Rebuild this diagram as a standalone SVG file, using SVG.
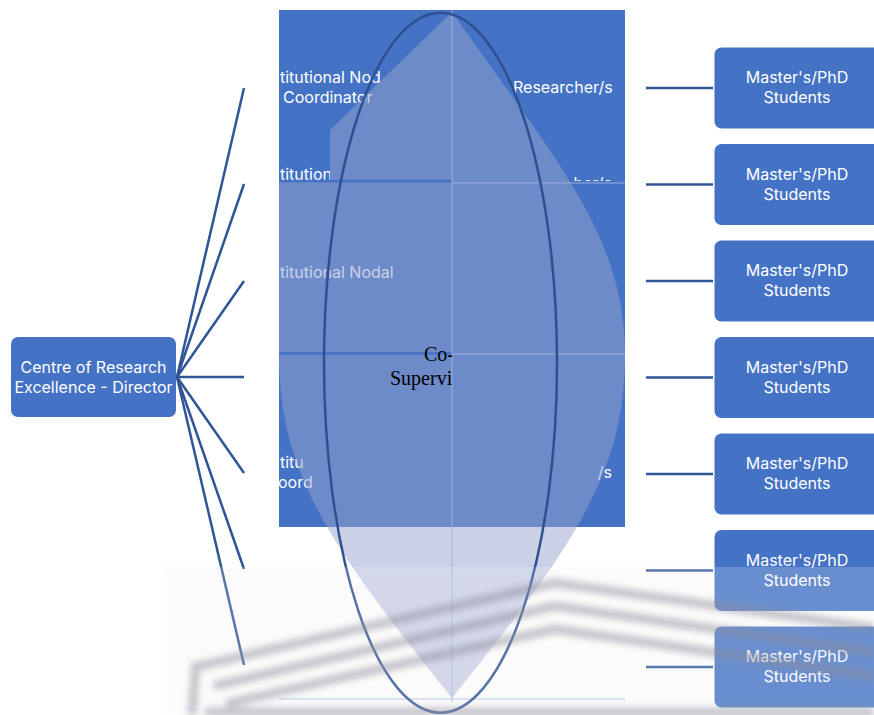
<svg xmlns="http://www.w3.org/2000/svg" width="874" height="715" viewBox="0 0 874 715">
  <style>
    .box { fill: #4472C4; }
    .lbl { font-family: Inter, "Open Sans", "DejaVu Sans", sans-serif; font-size: 16px; fill: #FFFFFF; }
    .mid { text-anchor: middle; }
    .cell { font-family: Inter, "Open Sans", "DejaVu Sans", sans-serif; font-size: 16px; fill: #FFFFFF; }
    .serif { font-family: "Liberation Serif", "Times New Roman", serif; font-size: 20px; fill: #000000; }
    .conn { stroke: #2F5597; stroke-width: 2.5; fill: none; stroke-linecap: butt; }
    .grid { stroke: #9FB2E0; stroke-opacity: 0.6; stroke-width: 1.5; fill: none; }
    .gridB { stroke: #4472C4; stroke-width: 2.5; fill: none; }
    .mark { stroke: #8E8E9C; stroke-opacity: 0.5; stroke-width: 9; fill: none; stroke-linejoin: round; }
  </style>
  <defs>
    <clipPath id="cellArea"><rect x="279" y="10" width="346" height="517"/></clipPath>
    <clipPath id="row2Left"><rect x="279" y="150" width="51" height="31"/></clipPath>
    <clipPath id="row2Right"><rect x="540" y="150" width="85" height="31"/></clipPath>
    <clipPath id="leftHalf"><rect x="279" y="340" width="173" height="60"/></clipPath>
    <filter id="soft" x="-5%" y="-20%" width="110%" height="140%"><feGaussianBlur stdDeviation="3"/></filter>
    <filter id="haze" x="-10%" y="-20%" width="120%" height="140%"><feGaussianBlur stdDeviation="6"/></filter>
  </defs>

  <rect width="874" height="715" fill="#FFFFFF"/>

  <!-- faint backdrop of the lower watermark -->
  <rect x="165" y="568" width="709" height="147" fill="#F2F2F5" opacity="0.35" filter="url(#haze)"/>

  <!-- matrix panel -->
  <g id="panel">
    <rect x="279" y="10" width="346" height="517" fill="#4472C4"/>
    <g clip-path="url(#cellArea)">
      <text class="cell" x="280" y="83">titutional Nod<tspan x="283" dy="20">Coordinator</tspan></text>
      <text class="cell" x="513" y="93">Researcher/s</text>
      <text class="cell" x="280" y="180" clip-path="url(#row2Left)">titution</text>
      <text class="cell" x="612" y="189" text-anchor="end" clip-path="url(#row2Right)">her/s</text>
      <text class="cell" x="280" y="278">titutional Nodal</text>
      <text class="cell" x="280" y="468">titu<tspan x="278" dy="20">oord</tspan></text>
      <text class="cell" x="612" y="478" text-anchor="end">/s</text>
    </g>
  </g>

  <!-- translucent lens overlay -->
  <path id="lens" d="M 452 12 C 557 162 625 235 625 355 C 625 475 572 548 452 698 C 332 548 279 475 279 355 L 279 181 L 330 181 L 330 130 Z" fill="#96A2CD" fill-opacity="0.5"/>

  <!-- panel grid lines -->
  <g id="grid">
    <line class="gridB" x1="279" y1="181" x2="452" y2="181"/>
    <line class="gridB" x1="279" y1="353.5" x2="452" y2="353.5"/>
    <line class="grid" x1="452" y1="183" x2="625" y2="183"/>
    <line class="grid" x1="452" y1="354" x2="625" y2="354"/>
    <line class="grid" x1="452" y1="10" x2="452" y2="702"/>
    <line class="grid" x1="279" y1="699" x2="625" y2="699"/>
  </g>

  <g id="cosupervisor" clip-path="url(#leftHalf)">
    <text class="serif" x="424" y="361">Co-<tspan x="390" dy="24">Supervisor</tspan></text>
  </g>

  <ellipse id="outline" cx="440.5" cy="362.7" rx="116.5" ry="350" fill="none" stroke="#2E5090" stroke-width="2.5"/>

  <!-- connectors -->
  <g id="connectors">
    <line class="conn" x1="177" y1="377" x2="244" y2="88"/>
    <line class="conn" x1="177" y1="377" x2="244" y2="184"/>
    <line class="conn" x1="177" y1="377" x2="244" y2="281"/>
    <line class="conn" x1="177" y1="377" x2="244" y2="377"/>
    <line class="conn" x1="177" y1="377" x2="244" y2="473"/>
    <line class="conn" x1="177" y1="377" x2="244" y2="569"/>
    <line class="conn" x1="177" y1="377" x2="244" y2="665"/>
    <line class="conn" x1="646" y1="88" x2="713" y2="88"/>
    <line class="conn" x1="646" y1="184.5" x2="713" y2="184.5"/>
    <line class="conn" x1="646" y1="281" x2="713" y2="281"/>
    <line class="conn" x1="646" y1="377.5" x2="713" y2="377.5"/>
    <line class="conn" x1="646" y1="474" x2="713" y2="474"/>
    <line class="conn" x1="646" y1="570.5" x2="713" y2="570.5"/>
    <line class="conn" x1="646" y1="667" x2="713" y2="667"/>
  </g>

  <g id="director">
    <rect class="box" x="11" y="337" width="165" height="80" rx="7"/>
    <text class="lbl mid" x="93.5" y="372.7">Centre of Research<tspan x="93.5" dy="20">Excellence - Director</tspan></text>
  </g>

  <g id="student1">
    <rect class="box" x="714.5" y="47.5" width="170" height="81" rx="7"/>
    <text class="lbl mid" x="797" y="83.3">Master's/PhD<tspan x="797" dy="20">Students</tspan></text>
  </g>
  <g id="student2">
    <rect class="box" x="714.5" y="144" width="170" height="81" rx="7"/>
    <text class="lbl mid" x="797" y="179.8">Master's/PhD<tspan x="797" dy="20">Students</tspan></text>
  </g>
  <g id="student3">
    <rect class="box" x="714.5" y="240.5" width="170" height="81" rx="7"/>
    <text class="lbl mid" x="797" y="276.3">Master's/PhD<tspan x="797" dy="20">Students</tspan></text>
  </g>
  <g id="student4">
    <rect class="box" x="714.5" y="337" width="170" height="81" rx="7"/>
    <text class="lbl mid" x="797" y="372.8">Master's/PhD<tspan x="797" dy="20">Students</tspan></text>
  </g>
  <g id="student5">
    <rect class="box" x="714.5" y="433.5" width="170" height="81" rx="7"/>
    <text class="lbl mid" x="797" y="469.3">Master's/PhD<tspan x="797" dy="20">Students</tspan></text>
  </g>
  <g id="student6">
    <rect class="box" x="714.5" y="530" width="170" height="81" rx="7"/>
    <text class="lbl mid" x="797" y="565.8">Master's/PhD<tspan x="797" dy="20">Students</tspan></text>
  </g>
  <g id="student7">
    <rect class="box" x="714.5" y="626.5" width="170" height="81" rx="7"/>
    <text class="lbl mid" x="797" y="662.3">Master's/PhD<tspan x="797" dy="20">Students</tspan></text>
  </g>

  <!-- soft roof-shaped watermark across the lower band -->
  <g id="watermark">
    <rect x="160" y="567" width="714" height="148" fill="#FFFFFF" opacity="0.2"/>
    <g filter="url(#soft)">
      <polyline class="mark" points="200,666 555,583 874,628"/>
      <polyline class="mark" points="214,686 555,606 874,652"/>
      <polyline class="mark" points="226,704 555,629 874,676"/>
      <polyline class="mark" points="196,662 192,715"/>
      <line class="mark" x1="205" y1="712" x2="874" y2="712"/>
    </g>
  </g>
</svg>
